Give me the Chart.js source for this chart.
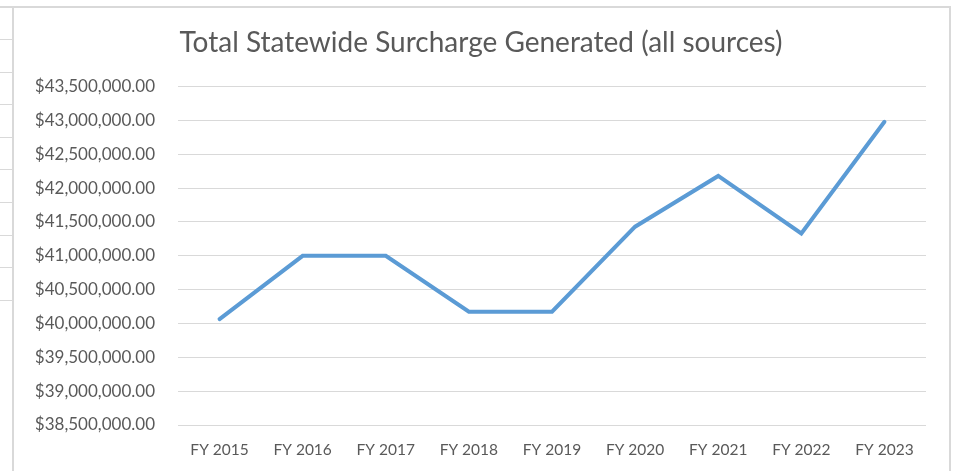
<!DOCTYPE html>
<html>
<head>
<meta charset="utf-8">
<script src="https://cdn.jsdelivr.net/npm/chart.js@4/dist/chart.umd.min.js"></script>
<style>
  html, body { margin: 0; padding: 0; background: #ffffff; width: 959px; height: 471px; overflow: hidden; }
  #wrap { position: relative; width: 959px; height: 471px; }
  .ln { position: absolute; background: #d9d9d9; }
  canvas { position: absolute; left: 0; top: 0; }
</style>
</head>
<body>
<div id="wrap">
  <div class="ln" style="left:0;top:6px;width:951px;height:2px;"></div>
  <div class="ln" style="left:12px;top:6px;width:2px;height:465px;"></div>
  <div class="ln" style="left:949px;top:6px;width:2px;height:465px;"></div>
  <div class="ln" style="left:0;top:39px;width:13px;height:1px;"></div>
  <div class="ln" style="left:0;top:72px;width:13px;height:1px;"></div>
  <div class="ln" style="left:0;top:104px;width:13px;height:1px;"></div>
  <div class="ln" style="left:0;top:137px;width:13px;height:1px;"></div>
  <div class="ln" style="left:0;top:169px;width:13px;height:1px;"></div>
  <div class="ln" style="left:0;top:202px;width:13px;height:1px;"></div>
  <div class="ln" style="left:0;top:235px;width:13px;height:1px;"></div>
  <div class="ln" style="left:0;top:267px;width:13px;height:1px;"></div>
  <div class="ln" style="left:0;top:300px;width:13px;height:1px;"></div>
  <canvas id="c" width="959" height="471"></canvas>
</div>
<script>
const categories = ["FY 2015", "FY 2016", "FY 2017", "FY 2018", "FY 2019", "FY 2020", "FY 2021", "FY 2022", "FY 2023"];
const surcharge = [40065000, 41000000, 41000000, 40175000, 40175000, 41430000, 42180000, 41330000, 42980000];
const yMin = 38500000;
const yMax = 43500000;
const yStep = 500000;
const chartTitle = "Total Statewide Surcharge Generated (all sources)";

const fontFamily = "Lato, 'Open Sans', sans-serif";
const textColor = "#595959";

new Chart(document.getElementById("c"), {
  type: "line",
  data: {
    labels: categories,
    datasets: [{
      label: "Total",
      data: surcharge,
      borderColor: "#5b9bd5",
      backgroundColor: "#5b9bd5",
      borderWidth: 4,
      pointRadius: 0,
      pointHoverRadius: 0,
      tension: 0,
      fill: false,
      borderCapStyle: "round",
      borderJoinStyle: "miter"
    }]
  },
  options: {
    responsive: false,
    animation: false,
    layout: { padding: { top: 20, left: 36, right: 33, bottom: 11 } },
    plugins: {
      legend: { display: false },
      tooltip: { enabled: false },
      title: {
        display: true,
        text: chartTitle,
        color: textColor,
        font: { family: fontFamily, size: 28, weight: "normal" },
        padding: { top: 6, bottom: 27 }
      }
    },
    scales: {
      x: {
        offset: true,
        grid: { display: false, drawTicks: false },
        border: { display: false },
        ticks: {
          color: textColor,
          font: { family: fontFamily, size: 15.5 },
          padding: 16,
          maxRotation: 0,
          autoSkip: false
        },
        afterFit: (s) => { s.height = 35; }
      },
      y: {
        min: yMin,
        max: yMax,
        grid: { color: "#d9d9d9", lineWidth: 1, drawTicks: false },
        border: { display: false },
        ticks: {
          stepSize: yStep,
          color: textColor,
          font: { family: fontFamily, size: 17 },
          padding: 23,
          callback: (v) => "$" + Number(v).toLocaleString("en-US", { minimumFractionDigits: 2, maximumFractionDigits: 2 })
        },
        afterFit: (s) => { s.width = 142; }
      }
    }
  }
});
</script>
</body>
</html>
